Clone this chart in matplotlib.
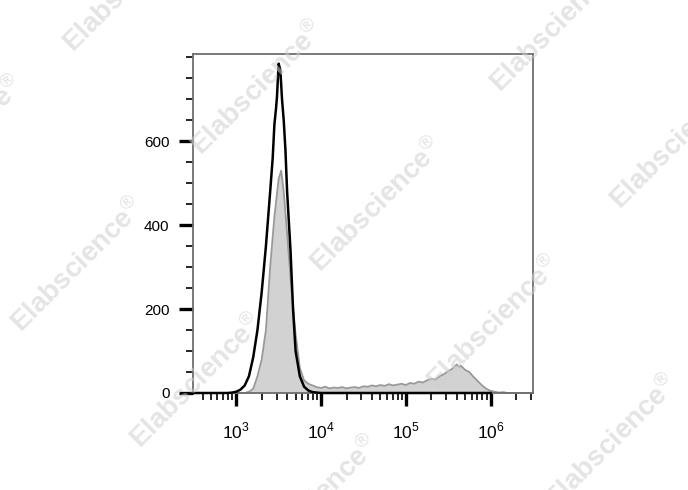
import numpy as np
import matplotlib
matplotlib.use("Agg")
import matplotlib.pyplot as plt
from matplotlib.ticker import LogLocator, FixedLocator, MultipleLocator

plt.rcParams["font.family"] = ["Liberation Sans", "DejaVu Sans"]
plt.rcParams["mathtext.fontset"] = "custom"
plt.rcParams["mathtext.rm"] = "Liberation Sans"

# log10 of fluorescence, black (control) curve
black_log = [2.49, 2.90, 2.95, 3.00, 3.05, 3.10, 3.15, 3.20, 3.25, 3.30, 3.35, 3.40, 3.43,
             3.45, 3.47, 3.48, 3.50, 3.52, 3.54, 3.56, 3.58, 3.60, 3.64, 3.67, 3.70, 3.75,
             3.80, 3.85, 3.90, 3.95, 4.00, 6.00]
black_count = [0, 0, 1, 3, 8, 18, 40, 85, 150, 240, 350, 480, 560,
               640, 680, 705, 785, 770, 700, 650, 580, 480, 340, 200, 100, 40,
               15, 6, 2, 1, 0, 0]

# log10 of fluorescence, gray (stained) filled histogram
gray_log = [2.49, 3.10, 3.15, 3.20, 3.25, 3.30, 3.35, 3.40, 3.45, 3.50, 3.53, 3.56, 3.60,
            3.65, 3.70, 3.75, 3.80, 3.85, 3.90, 3.95, 4.00, 4.05, 4.10, 4.15, 4.20,
            4.25, 4.30, 4.35, 4.40, 4.45, 4.50, 4.55, 4.60, 4.65, 4.70, 4.75, 4.80,
            4.85, 4.90, 4.95, 5.00, 5.05, 5.10, 5.15, 5.20, 5.25, 5.30, 5.35, 5.40,
            5.45, 5.50, 5.55, 5.60, 5.63, 5.65, 5.70, 5.75, 5.80, 5.85, 5.90, 5.95,
            6.00, 6.05, 6.10, 6.15, 6.20, 6.50]
gray_count = [0, 0, 3, 10, 40, 80, 150, 300, 420, 510, 530, 480, 380,
              250, 140, 60, 30, 22, 18, 14, 12, 15, 11, 13, 12,
              14, 11, 13, 14, 12, 16, 15, 18, 16, 19, 17, 21,
              18, 20, 22, 19, 24, 22, 27, 25, 30, 34, 32, 40,
              45, 52, 58, 68, 62, 65, 55, 50, 38, 28, 18, 10,
              5, 3, 1, 2, 0, 0]

xtick_vals = [1e3, 1e4, 1e5, 1e6]
xtick_labels = [r"$10^{3}$", r"$10^{4}$", r"$10^{5}$", r"$10^{6}$"]
ytick_vals = [0, 200, 400, 600]

watermark = "Elabscience$^{\\circledR}$"
watermark_xy = [(130, -15), (258, 88), (-42, 143), (78, 265), (197, 381), (377, 205),
                (557, 25), (677, 142), (494, 323), (313, 503), (612, 442)]

fig = plt.figure(figsize=(6.88, 4.90), dpi=100)
ax = fig.add_axes([193 / 688, 1 - 393 / 490, 340 / 688, 339 / 490])

gx = 10 ** np.array(gray_log)
bx = 10 ** np.array(black_log)
ax.fill_between(gx, gray_count, color="#d2d2d2", lw=0, zorder=1)
ax.plot(gx, gray_count, color="#999999", lw=1.3, zorder=2, clip_on=False)
ax.plot(bx, black_count, color="black", lw=1.8, zorder=3, clip_on=False)

ax.set_xscale("log")
ax.set_xlim(10 ** 2.49, 10 ** 6.5)
ax.set_ylim(0, 808)

ax.xaxis.set_major_locator(FixedLocator(xtick_vals))
ax.xaxis.set_minor_locator(LogLocator(base=10, subs=np.arange(2, 10)))
ax.set_xticklabels(xtick_labels, fontsize=12.5)
ax.yaxis.set_major_locator(FixedLocator(ytick_vals))
ax.yaxis.set_minor_locator(MultipleLocator(50))
ax.tick_params(axis="x", which="major", length=9, width=2.4, pad=11)
ax.tick_params(axis="x", which="minor", length=5, width=1.2)
ax.tick_params(axis="y", which="major", length=10, width=2.4, pad=7, labelsize=11)
ax.tick_params(axis="y", which="minor", length=5, width=1.2)

for side in ["top", "right", "left", "bottom"]:
    ax.spines[side].set_color("#6e6e6e")
    ax.spines[side].set_linewidth(1.3)

for x, y in watermark_xy:
    fig.text(x / 688, 1 - y / 490, watermark, rotation=45, fontsize=20,
             fontweight="bold", color="#cfcfcf", alpha=0.55, ha="center", va="center",
             zorder=10)

fig.savefig("out.png", dpi=100)
